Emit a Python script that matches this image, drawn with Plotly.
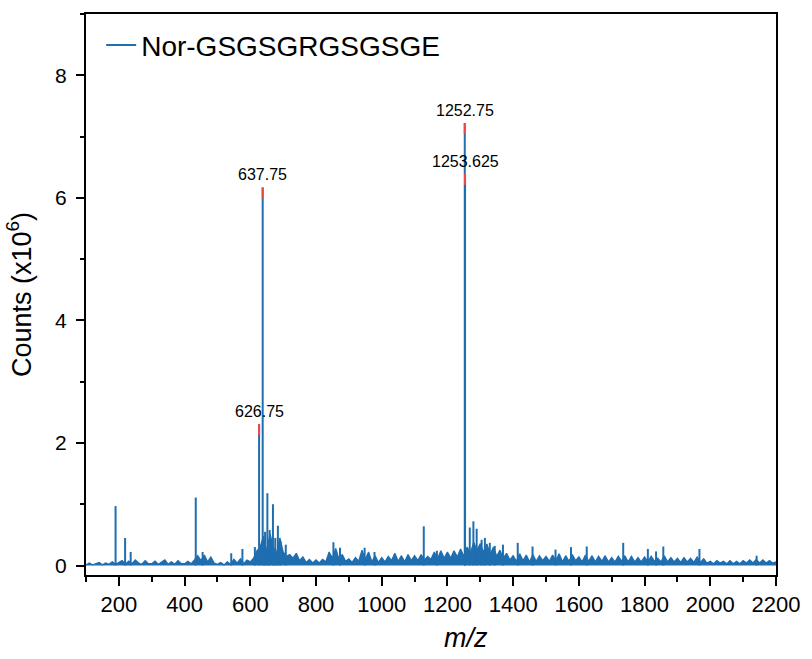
import plotly.graph_objects as go

# Baseline profile: counts in units of 1e4, sampled every 10 Da from m/z 100 to 2200
baseline_mz = list(range(100, 2201, 10))
baseline_counts_1e4 = [
    1, 4, 1, 3, 5, 1, 4, 2, 6, 2,            # 100-190
    5, 8, 2, 7, 3, 9, 4, 2, 8, 3,            # 200-290
    3, 7, 2, 6, 9, 2, 6, 2, 8, 3,            # 300-390
    3, 7, 3, 9, 16, 8, 17, 6, 14, 4,         # 400-490
    2, 5, 1, 6, 2, 10, 4, 11, 3, 9,          # 500-590
    6, 12, 24, 30, 48, 22, 52, 30, 20, 45,   # 600-690
    22, 15, 18, 12, 20, 8, 14, 5, 10, 4,     # 700-790
    9, 4, 10, 6, 22, 12, 28, 10, 18, 7,      # 800-890
    11, 5, 13, 7, 25, 10, 22, 6, 16, 5,      # 900-990
    13, 6, 15, 8, 20, 7, 16, 6, 18, 8,       # 1000-1090
    16, 8, 18, 9, 15, 10, 22, 11, 24, 12,    # 1100-1190
    22, 12, 24, 14, 27, 15, 30, 20, 38, 25,  # 1200-1290
    36, 22, 35, 18, 30, 15, 25, 12, 20, 9,   # 1300-1390
    16, 7, 19, 8, 17, 6, 18, 7, 16, 8,       # 1400-1490
    15, 7, 17, 8, 19, 6, 16, 7, 18, 8,       # 1500-1590
    14, 6, 17, 7, 16, 6, 15, 7, 16, 6,       # 1600-1690
    13, 6, 15, 7, 16, 6, 15, 6, 13, 6,       # 1700-1790
    14, 6, 15, 7, 12, 6, 16, 6, 13, 6,       # 1800-1890
    12, 5, 13, 6, 12, 5, 14, 5, 11, 4,       # 1900-1990
    7, 3, 8, 4, 7, 3, 8, 3, 7, 3,            # 2000-2090
    8, 4, 9, 4, 10, 4, 9, 4, 8, 4,           # 2100-2190
    6,                                       # 2200
]

# Resolved peaks: m/z and counts (x10^6)
peak_mz = [190, 219, 236, 434, 455, 542, 576, 614, 626.75, 637.75,
           645, 652, 659, 669, 676, 684, 692, 708, 853, 873,
           948, 978, 1128, 1168, 1252.75, 1253.625, 1268, 1279, 1289, 1304,
           1314, 1329, 1344, 1369, 1414, 1459, 1529, 1576, 1624, 1735,
           1810, 1835, 1857, 1967, 2141]
peak_counts = [0.97, 0.45, 0.22, 1.11, 0.22, 0.20, 0.27, 0.30, 2.31, 6.17,
               0.55, 1.18, 0.58, 1.00, 0.45, 0.65, 0.40, 0.34, 0.38, 0.29,
               0.29, 0.22, 0.64, 0.24, 7.22, 6.39, 0.62, 0.72, 0.60, 0.42,
               0.45, 0.37, 0.32, 0.34, 0.37, 0.31, 0.26, 0.30, 0.31, 0.37,
               0.27, 0.23, 0.31, 0.27, 0.16]

# Peaks that carry an m/z label
labelled_mz = [626.75, 637.75, 1252.75, 1253.625]

series_name = "Nor-GSGSGRGSGSGE"
x_ticks = [200, 400, 600, 800, 1000, 1200, 1400, 1600, 1800, 2000, 2200]
y_ticks = [0, 2, 4, 6, 8]

BLUE = "#1f6eb0"
RED = "#f04848"
FONT = "Liberation Sans, Arial, Helvetica, sans-serif"

baseline_y = [v / 100 for v in baseline_counts_1e4]

# Stick representation of the resolved peaks
stick_x, stick_y = [], []
for m, c in zip(peak_mz, peak_counts):
    stick_x += [m, m, None]
    stick_y += [0, c, None]

labelled_counts = [peak_counts[peak_mz.index(m)] for m in labelled_mz]

# Short red markers on top of the labelled peaks
mark_x, mark_y = [], []
for m, c in zip(labelled_mz, labelled_counts):
    mark_x += [m, m, None]
    mark_y += [c, c - 0.18, None]

fig = go.Figure()
fig.add_trace(go.Scatter(
    x=baseline_mz, y=baseline_y, mode="lines", fill="tozeroy",
    line=dict(color=BLUE, width=1.3), fillcolor=BLUE,
    showlegend=False, hoverinfo="skip",
))
fig.add_trace(go.Scatter(
    x=stick_x, y=stick_y, mode="lines", name=series_name,
    line=dict(color=BLUE, width=2), showlegend=True,
))
fig.add_trace(go.Scatter(
    x=mark_x, y=mark_y, mode="lines",
    line=dict(color=RED, width=2), showlegend=False, hoverinfo="skip",
))

annotations = [
    dict(x=m, y=c, xref="x", yref="y", text=f"{m}", showarrow=False,
         xanchor="center", yanchor="bottom", yshift=2,
         font=dict(size=16, color="black", family=FONT))
    for m, c in zip(labelled_mz, labelled_counts)
]
annotations.append(dict(
    x=0.55, y=-0.112, xref="paper", yref="paper", text="<i>m/z</i>",
    showarrow=False, xanchor="center", yanchor="middle",
    font=dict(size=27, color="black", family=FONT),
))

fig.update_layout(
    width=812, height=659,
    margin=dict(l=86, r=28, t=13, b=84),
    paper_bgcolor="white", plot_bgcolor="white",
    font=dict(family=FONT, color="black"),
    legend=dict(x=0.022, y=0.944, xanchor="left", yanchor="middle",
                font=dict(size=28, color="black"), bgcolor="rgba(0,0,0,0)"),
    annotations=annotations,
)
fig.update_xaxes(
    range=[100, 2200], tickvals=x_ticks, ticks="outside", ticklen=9, tickwidth=2,
    tickcolor="black", showline=True, linewidth=2, linecolor="black", mirror=True,
    showgrid=False, zeroline=False, tickfont=dict(size=22),
    minor=dict(tick0=100, dtick=100, ticks="outside", ticklen=5, tickwidth=2,
               tickcolor="black", showgrid=False),
)
fig.update_yaxes(
    range=[-0.155, 9.0], tickvals=y_ticks, ticks="outside", ticklen=8, tickwidth=2,
    tickcolor="black", showline=True, linewidth=2, linecolor="black", mirror=True,
    showgrid=False, zeroline=False, tickfont=dict(size=21), ticklabelstandoff=5,
    title=dict(text="Counts (x10<sup>6</sup>)", font=dict(size=27), standoff=16),
    minor=dict(tick0=1, dtick=1, ticks="outside", ticklen=4, tickwidth=2,
               tickcolor="black", showgrid=False),
)

fig.write_html("out.html")
